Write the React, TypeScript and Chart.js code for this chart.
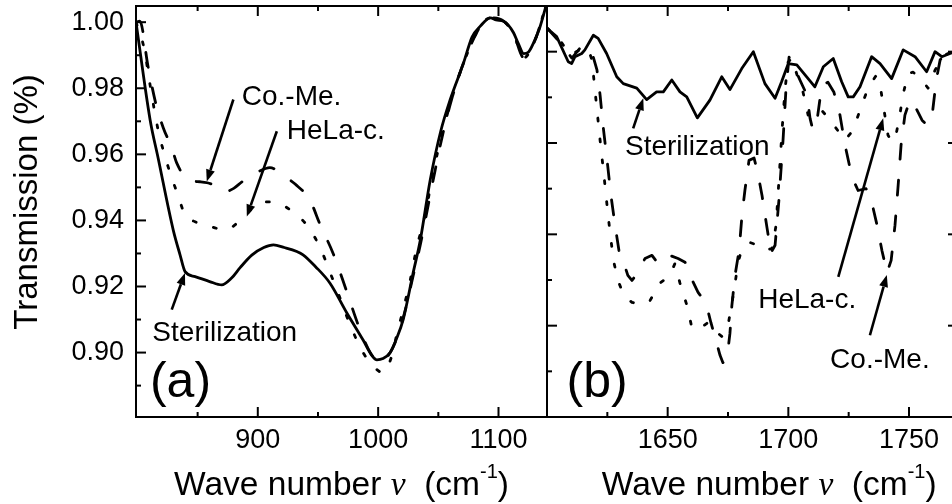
import React, { useEffect, useRef } from "react";
import { Chart, registerables } from "chart.js";

Chart.register(...registerables);

const FONT = "'Liberation Sans', Arial, Helvetica, sans-serif";

// ---------------- Panel (a): 800 - 1140 cm-1 ----------------
const sterilA: [number, number][] = [
  [798.8, 1.0], [810.5, 0.9705], [817, 0.9592], [829.8, 0.937], [835.4, 0.9296], [839.6, 0.9245],
  [847.9, 0.923], [860, 0.9215], [870, 0.9205], [878, 0.9225], [885.3, 0.9257], [895, 0.9295],
  [905, 0.9318], [913, 0.9326], [922, 0.9318], [932.4, 0.9306], [937.6, 0.9296], [948, 0.926],
  [960, 0.921], [974, 0.912], [987.5, 0.9038], [995, 0.899], [999, 0.8978], [1004, 0.8982],
  [1010, 0.9], [1015, 0.904], [1020.8, 0.91], [1029, 0.924], [1035, 0.934], [1043.3, 0.9523],
  [1052, 0.967], [1059.9, 0.9766], [1071, 0.9877], [1078, 0.9955], [1084.9, 0.9988], [1093.2, 1.0013],
  [1098, 1.0007], [1104.2, 1.0003], [1108, 0.9992], [1112.5, 0.9968], [1116.5, 0.9935], [1120.9, 0.9905],
  [1125, 0.991], [1129.2, 0.9938], [1134, 0.998], [1140.3, 1.006],
];
const helaA: [number, number][] = [
  [798.8, 1.0], [805.4, 0.9923], [810.5, 0.981], [817.1, 0.9675], [821.3, 0.9614], [827.1, 0.9544],
  [832.9, 0.9484], [839.6, 0.9417], [847.9, 0.9396], [856.2, 0.9387], [872.8, 0.9372], [889.4, 0.9414],
  [898.6, 0.9447], [907.7, 0.9456], [918.5, 0.945], [926.9, 0.9432], [935.2, 0.9408], [943.5, 0.9372],
  [952.6, 0.9311], [960.1, 0.9242], [966.8, 0.918], [976.7, 0.9084], [987.5, 0.9], [995, 0.8963],
  [1004, 0.8939], [1011.6, 0.8993], [1015.8, 0.906], [1020.8, 0.913], [1026.7, 0.922], [1031.6, 0.931],
  [1039, 0.9417], [1046, 0.955], [1053, 0.966], [1061, 0.9766], [1071, 0.9877], [1085, 0.9988],
  [1093.2, 1.0013], [1104.2, 1.0003], [1112.5, 0.9965], [1120.9, 0.9892], [1129.2, 0.9935], [1140.3, 1.006],
];
const comeA: [number, number][] = [
  [798.8, 1.0], [802, 1.0003], [808.8, 0.9866], [815.5, 0.975], [821.5, 0.968], [828.5, 0.962],
  [832.6, 0.9574], [842.3, 0.9523], [852, 0.9517], [857.9, 0.9514], [865, 0.9505], [872.8, 0.9487],
  [880, 0.9497], [887, 0.9517], [900.2, 0.9547], [910, 0.956], [922.7, 0.9532], [931, 0.951],
  [943.5, 0.946], [951.8, 0.9387], [962.6, 0.93], [973.4, 0.919], [983.4, 0.9084], [993.4, 0.9],
  [1001.7, 0.8972], [1010, 0.9], [1016.6, 0.9054], [1023.3, 0.914], [1028.3, 0.922], [1035, 0.9326],
  [1045.6, 0.952], [1053, 0.965], [1061, 0.9766], [1071, 0.9877], [1085, 0.9988], [1093.2, 1.0013],
  [1104.2, 1.0003], [1112.5, 0.9965], [1120.9, 0.9893], [1129.2, 0.9935], [1140.3, 1.006],
];

// ---------------- Panel (b): 1600 - 1770 cm-1 ----------------
const sterilB: [number, number][] = [
  [1600, 1.0051], [1604, 1.0033], [1608.8, 0.9978], [1610.2, 0.9974], [1611.6, 0.9989], [1614.4, 0.9996],
  [1615.7, 1.0004], [1619.2, 1.0036], [1621.2, 1.0029], [1624.7, 0.9996], [1628.9, 0.9945], [1631.6, 0.993],
  [1634.4, 0.9925], [1637.2, 0.992], [1641.3, 0.9895], [1645.4, 0.9912], [1648.2, 0.9912], [1651.7, 0.9938],
  [1655.1, 0.9912], [1657.9, 0.9901], [1662.3, 0.9855], [1667.5, 0.9894], [1672.4, 0.9945], [1675.8, 0.9917],
  [1680.7, 0.9963], [1685.5, 1.0], [1690.3, 0.993], [1694.5, 0.9898], [1697.2, 0.9934], [1700, 0.9974],
  [1703.5, 0.9971], [1707.6, 0.9945], [1711, 0.9923], [1714.5, 0.9967], [1718.6, 0.9985], [1722.1, 0.9934],
  [1724.8, 0.9901], [1726.9, 0.9901], [1729.7, 0.9923], [1734.5, 0.9989], [1738, 0.9974], [1742.8, 0.9941],
  [1747.6, 1.0004], [1752.5, 0.9989], [1757.3, 0.9956], [1760.8, 1.0], [1763.6, 0.9989], [1767, 0.9996],
  [1770.3, 1.0002],
];
const helaB: [number, number][] = [
  [1600, 1.0052], [1605.4, 1.0025], [1609.5, 0.9993], [1613.7, 1.0004], [1617, 1.0008], [1618.6, 0.9982],
  [1620.3, 0.9894], [1622, 0.9806], [1623.6, 0.9729], [1625.3, 0.9642], [1626.5, 0.9587], [1627.7, 0.9539],
  [1629.4, 0.9499], [1631.9, 0.9466], [1635.2, 0.9451], [1639.3, 0.9446], [1642.7, 0.9455], [1646.8, 0.9493],
  [1650.9, 0.951], [1653, 0.9536], [1655.1, 0.9493], [1658, 0.9444], [1660.1, 0.9394], [1663.4, 0.9394],
  [1666.7, 0.9407], [1669.6, 0.9389], [1672.5, 0.9376], [1675, 0.94], [1677.5, 0.9477], [1679.2, 0.9539],
  [1680.8, 0.9569], [1684.1, 0.9582], [1687.4, 0.9576], [1690.7, 0.9565], [1693.2, 0.9569], [1694.9, 0.9619],
  [1696.1, 0.9718], [1697.4, 0.9828], [1698.6, 0.9916], [1699.9, 0.9977], [1701.5, 0.9986], [1703.6, 0.9949],
  [1706.1, 0.9911], [1708.2, 0.9861], [1710.2, 0.9872], [1713.1, 0.9876], [1717.3, 0.985], [1723.5, 0.9806],
  [1726.8, 0.9828], [1729.7, 0.9872], [1733, 0.992], [1736.3, 0.9947], [1738, 0.9927], [1739.2, 0.9887],
  [1741.3, 0.9817], [1743, 0.9802], [1744.6, 0.9817], [1746.3, 0.9865], [1747.5, 0.9905], [1749.6, 0.9953],
  [1751.7, 0.9955], [1755.4, 0.9938], [1757.9, 0.992], [1760.8, 0.996], [1764.9, 0.9993], [1767.4, 0.9999],
  [1770.3, 1.0],
];
const comeB: [number, number][] = [
  [1600, 1.0052], [1605.4, 1.002], [1610.3, 0.9986], [1613.7, 1.0008], [1616.1, 1.0012], [1618.6, 0.9999],
  [1620.7, 0.996], [1622, 0.9905], [1623.2, 0.9839], [1624.9, 0.9762], [1626.5, 0.9685], [1628.2, 0.962],
  [1629.8, 0.9565], [1631.9, 0.9536], [1633.5, 0.951], [1635.2, 0.9499], [1637.7, 0.9517], [1640.6, 0.9547],
  [1643.5, 0.9554], [1646, 0.9536], [1648.5, 0.9547], [1650.9, 0.9554], [1654.3, 0.9547], [1657.2, 0.9539],
  [1659.2, 0.951], [1662.6, 0.9473], [1665.9, 0.9449], [1667.9, 0.9407], [1670, 0.9368], [1671.7, 0.9335],
  [1672.9, 0.9319], [1674.6, 0.933], [1675.8, 0.9383], [1676.6, 0.9444], [1677.9, 0.951], [1679.6, 0.9565],
  [1680.8, 0.9642], [1682, 0.9696], [1683.7, 0.9762], [1685.8, 0.9767], [1687.4, 0.9733], [1689.1, 0.9685],
  [1691.2, 0.9613], [1692.8, 0.956], [1694.5, 0.9576], [1696.1, 0.9675], [1697.8, 0.9806], [1699, 0.9916],
  [1700.3, 0.9988], [1702.3, 0.9968], [1704.8, 0.9938], [1707.7, 0.9905], [1709, 0.9854], [1710.2, 0.9828],
  [1711.9, 0.985], [1713.9, 0.9927], [1716.4, 0.9933], [1718.9, 0.9911], [1721.4, 0.9861], [1723.5, 0.9795],
  [1726.4, 0.9725], [1728.9, 0.9696], [1732.2, 0.97], [1734.7, 0.9667], [1736.8, 0.9619], [1738.8, 0.9564],
  [1740.9, 0.9516], [1742.6, 0.9543], [1744.2, 0.962], [1745.5, 0.9707], [1746.7, 0.9795], [1748.3, 0.9861],
  [1750.4, 0.9894], [1752.9, 0.9876], [1755.4, 0.985], [1757.5, 0.9839], [1759.6, 0.9861], [1761.3, 0.9938],
  [1762.9, 0.9982], [1765.4, 0.9999], [1767.4, 1.0004], [1770.3, 1.0003],
];

// ---------------- Axes ----------------
const xRangeA = [798.8, 1140.3];
const yRangeA = [0.8805, 1.0049];
const xRangeB = [1600, 1770.3];
const yRangeB = [0.92, 1.01];
const xTickLabelsA = [900, 1000, 1100];
const xMinorA = [850, 950, 1050];
const yTickLabelsA = [0.9, 0.92, 0.94, 0.96, 0.98, 1.0];
const yMinorA = [0.89, 0.91, 0.93, 0.95, 0.97, 0.99];
const xTickLabelsB = [1650, 1700, 1750];
const xMinorB = [1625, 1675, 1725];
const yMajorB = [0.94, 0.96, 0.98, 1.0];
const yMinorB = [0.93, 0.95, 0.97, 0.99];

const yTitle = "Transmission (%)";
const seriesNames = ["Sterilization", "HeLa-c.", "Co.-Me."];

// annotations in data coordinates
const annA = [
  { text: "Co.-Me.", at: [886.7, 0.9748], arrow: [[879.7, 0.9766], [857.6, 0.9518]] },
  { text: "HeLa-c.", at: [924.1, 0.9647], arrow: [[915.8, 0.967], [890.9, 0.9412]] },
  { text: "Sterilization", at: [812.4, 0.9034], arrow: [[828.5, 0.913], [839.5, 0.9241]] },
];
const annB = [
  { text: "Sterilization", at: [1632.3, 0.9774], arrow: [[1635.7, 0.9832], [1639.9, 0.9898]] },
  { text: "HeLa-c.", at: [1687.5, 0.9438], arrow: [[1720.7, 0.9507], [1739.3, 0.9854]] },
  { text: "Co.-Me.", at: [1717.3, 0.9307], arrow: [[1733.8, 0.9379], [1740.8, 0.9511]] },
];

const toXY = (arr: [number, number][]) => arr.map(([x, y]) => ({ x, y }));

const panelPlugin = {
  id: "panelDecor",
  afterDraw(chart: any, _args: any, opts: any) {
    const { ctx, chartArea, scales } = chart;
    const { left, right, top, bottom } = chartArea;
    const xs = scales.x;
    const ys = scales.y;
    ctx.save();
    ctx.strokeStyle = "#000";
    ctx.fillStyle = "#000";
    ctx.lineCap = "butt";
    ctx.setLineDash([]);

    const seg = (x1: number, y1: number, x2: number, y2: number) => {
      ctx.beginPath();
      ctx.moveTo(x1, y1);
      ctx.lineTo(x2, y2);
      ctx.stroke();
    };

    // ticks
    ctx.lineWidth = 2;
    const xt: [number[], number][] = [[opts.xMajor, 10], [opts.xMinor, 5]];
    for (const [vals, len] of xt) {
      for (const v of vals) {
        const px = xs.getPixelForValue(v);
        if (px < left + 1 || px > right - 1) continue;
        seg(px, bottom, px, bottom - len);
        seg(px, top, px, top + len);
      }
    }
    const yt: [number[], number][] = [[opts.yMajor, 10], [opts.yMinor, 5]];
    for (const [vals, len] of yt) {
      for (const v of vals) {
        const py = ys.getPixelForValue(v);
        if (py < top + 1 || py > bottom - 1) continue;
        if (opts.leftTicks) seg(left, py, left + len, py);
        if (opts.rightTicks) seg(right, py, right - len, py);
      }
    }
    // frame
    ctx.lineWidth = 2;
    ctx.strokeRect(left, top, right - left, bottom - top);

    // annotations
    for (const a of opts.annotations) {
      ctx.font = `28px ${FONT}`;
      ctx.textAlign = "left";
      ctx.textBaseline = "alphabetic";
      ctx.fillText(a.text, xs.getPixelForValue(a.at[0]), ys.getPixelForValue(a.at[1]));
      const x1 = xs.getPixelForValue(a.arrow[0][0]);
      const y1 = ys.getPixelForValue(a.arrow[0][1]);
      const x2 = xs.getPixelForValue(a.arrow[1][0]);
      const y2 = ys.getPixelForValue(a.arrow[1][1]);
      const ang = Math.atan2(y2 - y1, x2 - x1);
      const hl = 12;
      const hw = 4.5;
      const bx = x2 - hl * Math.cos(ang);
      const by = y2 - hl * Math.sin(ang);
      ctx.lineWidth = 2.6;
      seg(x1, y1, bx, by);
      ctx.beginPath();
      ctx.moveTo(x2, y2);
      ctx.lineTo(bx + hw * Math.sin(ang), by - hw * Math.cos(ang));
      ctx.lineTo(bx - hw * Math.sin(ang), by + hw * Math.cos(ang));
      ctx.closePath();
      ctx.fill();
    }

    // panel label
    ctx.font = `50px ${FONT}`;
    ctx.textAlign = "left";
    ctx.textBaseline = "alphabetic";
    ctx.fillText(opts.panelLabel.text, xs.getPixelForValue(opts.panelLabel.at[0]), ys.getPixelForValue(opts.panelLabel.at[1]));

    // x title: Wave number ν  (cm^-1)
    const parts = [
      { t: "Wave number ", f: `33.5px ${FONT}`, dy: 0 },
      { t: "\u03BD", f: `italic 33.5px 'Liberation Serif', 'DejaVu Serif', serif`, dy: 0 },
      { t: "  (cm", f: `33.5px ${FONT}`, dy: 0 },
      { t: "-1", f: `20px ${FONT}`, dy: -17 },
      { t: ")", f: `33.5px ${FONT}`, dy: 0 },
    ];
    let total = 0;
    const widths = parts.map((p) => {
      ctx.font = p.f;
      const w = ctx.measureText(p.t).width;
      total += w;
      return w;
    });
    let cx = (left + right) / 2 + opts.xTitleDx - total / 2;
    const base = bottom + 78;
    parts.forEach((p, i) => {
      ctx.font = p.f;
      ctx.fillText(p.t, cx, base + p.dy);
      cx += widths[i];
    });

    // y title
    if (opts.yTitle) {
      ctx.save();
      ctx.translate(36.5, (top + bottom) / 2 - 9.5);
      ctx.rotate(-Math.PI / 2);
      ctx.font = `33px ${FONT}`;
      ctx.textAlign = "center";
      ctx.textBaseline = "alphabetic";
      ctx.fillText(opts.yTitle, 0, 0);
      ctx.restore();
    }
    ctx.restore();
  },
};

function makeDatasets(s: [number, number][], h: [number, number][], c: [number, number][], smooth: boolean) {
  const common: any = {
    borderColor: "#000",
    borderWidth: 2.8,
    pointRadius: 0,
    fill: false,
    borderCapStyle: "round",
    borderJoinStyle: "round",
  };
  if (smooth) common.cubicInterpolationMode = "monotone";
  else common.tension = 0;
  return [
    { ...common, label: seriesNames[0], data: toXY(s) },
    { ...common, label: seriesNames[1], data: toXY(h), borderDash: [3, 18] },
    { ...common, label: seriesNames[2], data: toXY(c), borderDash: [15, 21] },
  ];
}

function xScale(range: number[], labels: number[]) {
  return {
    type: "linear",
    min: range[0],
    max: range[1],
    afterBuildTicks: (s: any) => {
      s.ticks = labels.map((v) => ({ value: v }));
    },
    afterFit: (s: any) => {
      s.height = 87;
      s.paddingLeft = 0;
      s.paddingRight = 0;
      s.paddingTop = 0;
      s.paddingBottom = 0;
    },
    ticks: {
      font: { family: FONT, size: 27 },
      color: "#000",
      padding: 7,
      autoSkip: false,
      maxRotation: 0,
      callback: (v: any) => String(v),
    },
    grid: { display: false, drawTicks: false },
    border: { display: false },
  };
}

export default function App() {
  const refA = useRef<HTMLCanvasElement>(null);
  const refB = useRef<HTMLCanvasElement>(null);

  useEffect(() => {
    const chartA = new Chart(refA.current as HTMLCanvasElement, {
      type: "line",
      data: { datasets: makeDatasets(sterilA, helaA, comeA, true) as any },
      options: {
        animation: false,
        responsive: false,
        maintainAspectRatio: false,
        layout: { padding: { left: 0, right: 1, top: 6, bottom: 0 } },
        plugins: {
          legend: { display: false },
          tooltip: { enabled: false },
          panelDecor: {
            xMajor: xTickLabelsA,
            xMinor: xMinorA,
            yMajor: yTickLabelsA,
            yMinor: yMinorA,
            leftTicks: true,
            rightTicks: false,
            annotations: annA,
            panelLabel: { text: "(a)", at: [810.4, 0.8867] },
            xTitleDx: 0,
            yTitle: yTitle,
          },
        } as any,
        scales: {
          x: xScale(xRangeA, xTickLabelsA) as any,
          y: {
            type: "linear",
            min: yRangeA[0],
            max: yRangeA[1],
            afterBuildTicks: (s: any) => {
              s.ticks = yTickLabelsA.map((v) => ({ value: v }));
            },
            afterFit: (s: any) => {
              s.width = 136;
              s.paddingTop = 0;
              s.paddingBottom = 0;
              s.paddingLeft = 0;
              s.paddingRight = 0;
            },
            ticks: {
              font: { family: FONT, size: 27 },
              color: "#000",
              padding: 12,
              autoSkip: false,
              callback: (v: any) => Number(v).toFixed(2),
            },
            grid: { display: false, drawTicks: false },
            border: { display: false },
          } as any,
        },
      },
      plugins: [panelPlugin as any],
    });

    const chartB = new Chart(refB.current as HTMLCanvasElement, {
      type: "line",
      data: { datasets: makeDatasets(sterilB, helaB, comeB, false) as any },
      options: {
        animation: false,
        responsive: false,
        maintainAspectRatio: false,
        layout: { padding: { left: 1, right: 1, top: 6, bottom: 0 } },
        plugins: {
          legend: { display: false },
          tooltip: { enabled: false },
          panelDecor: {
            xMajor: xTickLabelsB,
            xMinor: xMinorB,
            yMajor: yMajorB,
            yMinor: yMinorB,
            leftTicks: true,
            rightTicks: true,
            annotations: annB,
            panelLabel: { text: "(b)", at: [1608.1, 0.9244] },
            xTitleDx: 16.7,
            yTitle: "",
          },
        } as any,
        scales: {
          x: xScale(xRangeB, xTickLabelsB) as any,
          y: {
            type: "linear",
            display: false,
            min: yRangeB[0],
            max: yRangeB[1],
            afterFit: (s: any) => {
              s.width = 0;
              s.paddingTop = 0;
              s.paddingBottom = 0;
            },
          } as any,
        },
      },
      plugins: [panelPlugin as any],
    });

    return () => {
      chartA.destroy();
      chartB.destroy();
    };
  }, []);

  return (
    <div
      style={{
        position: "absolute",
        left: 0,
        top: 0,
        width: 952,
        height: 504,
        overflow: "hidden",
        background: "#fff",
      }}
    >
      <canvas
        ref={refA}
        width={548}
        height={504}
        style={{ position: "absolute", left: 0, top: 0, width: 548, height: 504 }}
      />
      <canvas
        ref={refB}
        width={413}
        height={504}
        style={{ position: "absolute", left: 546, top: 0, width: 413, height: 504 }}
      />
    </div>
  );
}
